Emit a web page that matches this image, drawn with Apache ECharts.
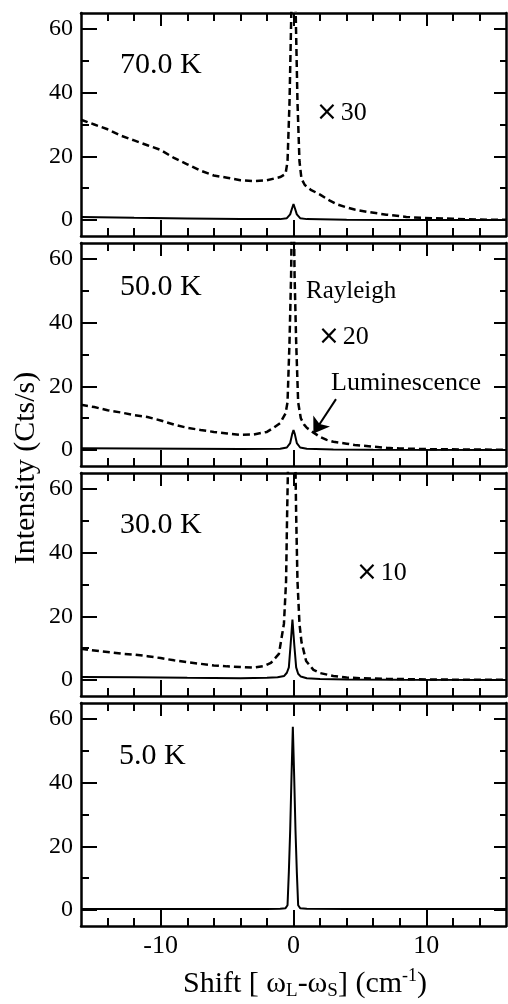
<!DOCTYPE html>
<html>
<head>
<meta charset="utf-8">
<script src="https://cdn.jsdelivr.net/npm/echarts@6/dist/echarts.min.js"></script>
<style>
html,body{margin:0;padding:0;background:#fff;}
#chart{width:508px;height:1004px;}
</style>
</head>
<body>
<div id="chart"></div>
<script>
// ---- axis ticks / labels ----
const xMin = -16, xMax = 16, yMin = -5, yMax = 65;
const xMajorTicks = [-10, 0, 10];
const xMinorTicks = [-14, -12, -8, -6, -4, -2, 2, 4, 6, 8, 12, 14];
const yMajorTicks = [0, 20, 40, 60];
const yMinorTicks = [10, 30, 50];
const panelLabels = ['70.0 K', '50.0 K', '30.0 K', '5.0 K'];
const scaleFactors = ['30', '20', '10', ''];

// ---- 70.0 K ----
const x70dash = [-16, -15, -14, -13, -12, -11, -10, -9, -8, -7, -6, -5, -4, -3, -2, -1, -0.6, -0.45, -0.3, -0.18, 0, 0.18, 0.3, 0.45, 0.6, 0.85, 1.3, 2, 2.7, 3.3, 4, 4.6, 5.5, 7, 8.5, 9.6, 12, 14.6, 16];
const y70dash = [31.5, 30, 28.5, 26.5, 25, 23.5, 22, 19.5, 17.5, 15.5, 14, 13.3, 12.5, 12.2, 12.5, 13.5, 14.5, 18.4, 37, 62, 100, 62, 37, 18.4, 13, 11, 9.5, 8, 6.2, 4.9, 4, 3.3, 2.6, 1.7, 1.0, 0.7, 0.4, 0.1, 0.1];
const x70solid = [-16, -12, -8, -4, -1, -0.5, -0.25, -0.1, 0, 0.1, 0.25, 0.5, 1, 4, 8, 16];
const y70solid = [1.0, 0.7, 0.5, 0.3, 0.3, 0.6, 1.8, 3.8, 5.0, 3.8, 1.8, 0.6, 0.3, 0.1, 0, 0];

// ---- 50.0 K ----
const x50dash = [-16, -15, -14, -13, -12, -11, -10, -9, -8, -7, -6, -5, -4, -3, -2, -1.5, -1, -0.6, -0.45, -0.3, -0.18, -0.05, 0.08, 0.2, 0.35, 0.55, 0.8, 1, 1.4, 2, 2.5, 3, 4, 4.6, 6, 7, 8, 10, 13, 16];
const y50dash = [14.2, 13.5, 12.5, 11.8, 11, 10.4, 9.3, 8, 7, 6.3, 5.7, 5.2, 4.8, 4.9, 5.7, 7, 8.5, 11.5, 15, 34, 55, 100, 55, 34, 15, 10, 8, 7, 5.8, 4.1, 3.2, 2.6, 2, 1.6, 1.1, 0.7, 0.5, 0.3, 0.2, 0.1];
const x50solid = [-16, -12, -8, -4, -1, -0.5, -0.25, -0.1, 0, 0.1, 0.25, 0.5, 1, 3, 6, 16];
const y50solid = [0.6, 0.5, 0.4, 0.3, 0.4, 0.8, 2.2, 5, 6.3, 5, 2.2, 0.8, 0.4, 0.2, 0.1, 0];

// ---- 30.0 K ----
const x30dash = [-16, -15, -14, -13, -12, -11, -10, -9, -8, -7, -6, -5, -4, -3, -2.2, -1.7, -1.1, -0.72, -0.56, -0.48, -0.38, -0.12, 0.12, 0.2, 0.3, 0.45, 0.6, 0.95, 1.5, 2, 3, 4, 5, 7, 10, 13, 16];
const y30dash = [9.8, 9.3, 8.8, 8.3, 8, 7.5, 6.9, 6.2, 5.6, 5.1, 4.6, 4.3, 4.1, 3.9, 4.4, 5.4, 8.2, 17.7, 31, 52, 75, 110, 75, 52, 31, 17.7, 12, 6, 3.2, 2.2, 1.3, 0.8, 0.6, 0.4, 0.2, 0.1, 0.1];
const x30solid = [-16, -12, -8, -4, -2, -1.2, -0.7, -0.5, -0.35, -0.22, -0.08, 0.06, 0.2, 0.35, 0.55, 1, 2, 4, 8, 16];
const y30solid = [1.0, 0.9, 0.7, 0.6, 0.7, 0.9, 1.3, 2.3, 4, 11, 19, 11, 4, 2, 1.1, 0.6, 0.3, 0.2, 0.1, 0];

// ---- 5.0 K ----
const x5solid = [-16, -8, -2, -1, -0.6, -0.45, -0.35, -0.25, -0.15, -0.05, 0.05, 0.15, 0.25, 0.35, 0.5, 1, 4, 16];
const y5solid = [0.3, 0.3, 0.3, 0.4, 0.6, 1.5, 12, 25, 42, 57.5, 42, 25, 12, 1.5, 0.6, 0.4, 0.3, 0.3];

const dashX = [x70dash, x50dash, x30dash, null];
const dashY = [y70dash, y50dash, y30dash, null];
const solidX = [x70solid, x50solid, x30solid, x5solid];
const solidY = [y70solid, y50solid, y30solid, y5solid];

// ---- layout ----
const gridTops = [13, 243, 473, 703];
const gridH = 223;
const SERIF = '"Liberation Serif", "Times New Roman", serif';

function zip(a, b) { return a.map((v, i) => [v, b[i]]); }

const grids = [], xAxes = [], yAxes = [], series = [];
for (let g = 0; g < 4; g++) {
  grids.push({ left: 81, right: 2, top: gridTops[g], height: gridH });
  const isLast = g === 3;
  const xBase = (pos, ticks, len, showLine, labels) => ({
    type: 'value', gridIndex: g, position: pos, min: xMin, max: xMax,
    axisLine: { show: showLine, onZero: false, lineStyle: { color: '#000', width: 2.5 } },
    axisTick: { show: true, inside: true, length: len, customValues: ticks, lineStyle: { color: '#000', width: 2 } },
    axisLabel: labels ? { show: true, customValues: labels, margin: 7, color: '#000', fontFamily: SERIF, fontSize: 26, formatter: v => String(v) } : { show: false },
    splitLine: { show: false }
  });
  xAxes.push(xBase('bottom', xMinorTicks, 8, true, isLast ? xMajorTicks : null));
  xAxes.push(xBase('bottom', xMajorTicks, 16, false, null));
  xAxes.push(xBase('top', xMinorTicks, 8, true, null));
  xAxes.push(xBase('top', xMajorTicks, 13, false, null));

  const yBase = (pos, ticks, len, showLine, labels) => ({
    type: 'value', gridIndex: g, position: pos, min: yMin, max: yMax,
    axisLine: { show: showLine, onZero: false, lineStyle: { color: '#000', width: 2.5 } },
    axisTick: { show: true, inside: true, length: len, customValues: ticks, lineStyle: { color: '#000', width: 2 } },
    axisLabel: labels ? { show: true, customValues: labels, margin: 8, color: '#000', fontFamily: SERIF, fontSize: 24 } : { show: false },
    splitLine: { show: false }
  });
  yAxes.push(yBase('left', yMajorTicks, 16, true, yMajorTicks));
  yAxes.push(yBase('left', yMinorTicks, 8, false, null));
  yAxes.push(yBase('right', yMajorTicks, 12, true, null));
  yAxes.push(yBase('right', yMinorTicks, 6, false, null));

  if (dashX[g]) {
    const s = {
      type: 'line', xAxisIndex: 4 * g, yAxisIndex: 4 * g, clip: true,
      data: zip(dashX[g], dashY[g]), symbol: 'none', silent: true,
      lineStyle: { color: '#000', width: 2.5, type: [7, 4] }
    };
    if (g === 1) {
      s.markLine = {
        silent: true, symbol: ['none', 'arrow'], symbolSize: 15,
        label: { show: false },
        lineStyle: { color: '#000', width: 2, type: 'solid' },
        data: [[{ coord: [3.2, 16] }, { coord: [1.5, 5.2] }]]
      };
    }
    series.push(s);
  }
  series.push({
    type: 'line', xAxisIndex: 4 * g, yAxisIndex: 4 * g, clip: true,
    data: zip(solidX[g], solidY[g]), symbol: 'none', silent: true,
    lineStyle: { color: '#000', width: 2 }
  });
}

function txt(x, y, text, size) {
  return {
    type: 'text', x: x, y: y, silent: true,
    style: { text: text, font: size + 'px ' + SERIF, fill: '#000', textAlign: 'left', textVerticalAlign: 'middle' }
  };
}
function times(x, y, factor) {
  return {
    type: 'text', x: x, y: y, silent: true,
    style: {
      text: '{m|×}{d|' + factor + '}', textAlign: 'left', textVerticalAlign: 'middle', fill: '#000',
      rich: {
        m: { fontFamily: '"DejaVu Sans", sans-serif', fontSize: 26, fill: '#000', padding: [0, 3, 0, 0] },
        d: { fontFamily: SERIF, fontSize: 26, fill: '#000' }
      }
    }
  };
}

const graphics = [
  txt(120, 65, panelLabels[0], 30),
  times(316, 113, scaleFactors[0]),
  txt(120, 287, panelLabels[1], 30),
  txt(306, 291, 'Rayleigh', 25),
  times(318, 337, scaleFactors[1]),
  txt(331, 383, 'Luminescence', 26),
  txt(120, 525, panelLabels[2], 30),
  times(356, 573, scaleFactors[2]),
  txt(119, 756, panelLabels[3], 30),
  {
    type: 'text', x: 26, y: 468, rotation: Math.PI / 2, silent: true,
    style: { text: 'Intensity (Cts/s)', font: '30px ' + SERIF, fill: '#000', textAlign: 'center', textVerticalAlign: 'middle' }
  },
  {
    type: 'text', x: 305, y: 984, silent: true,
    style: {
      text: '{n|Shift [ ω}{sub|L}{n|-ω}{sub|S}{n|] (cm}{sup|-1}{n|)}',
      textAlign: 'center', textVerticalAlign: 'middle', fill: '#000',
      rich: {
        n: { fontFamily: SERIF, fontSize: 30, fill: '#000' },
        sub: { fontFamily: SERIF, fontSize: 19, fill: '#000', padding: [15, 0, 0, 0] },
        sup: { fontFamily: SERIF, fontSize: 18, fill: '#000', padding: [0, 0, 15, 0] }
      }
    }
  }
];

const chart = echarts.init(document.getElementById('chart'), null, { renderer: 'canvas' });
chart.setOption({
  animation: false,
  backgroundColor: '#fff',
  grid: grids,
  xAxis: xAxes,
  yAxis: yAxes,
  series: series,
  graphic: graphics
});
</script>
</body>
</html>
